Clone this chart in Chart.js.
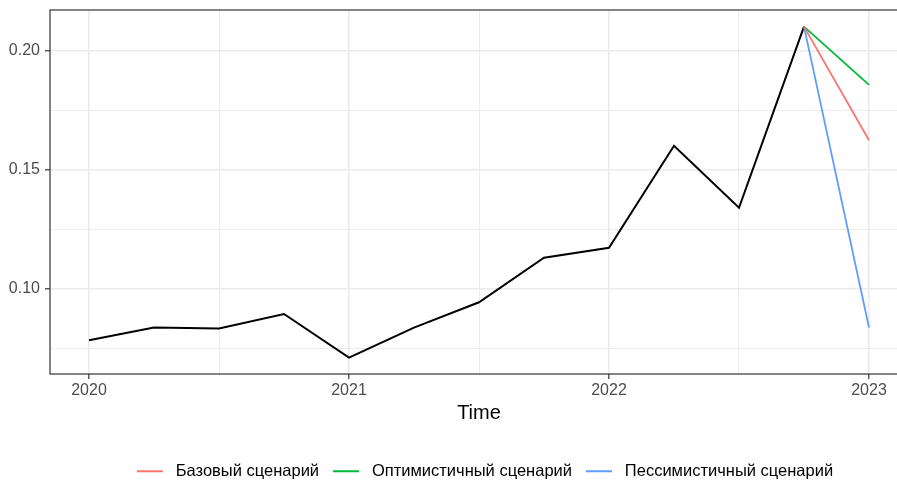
<!DOCTYPE html>
<html>
<head>
<meta charset="utf-8">
<script src="https://cdn.jsdelivr.net/npm/chart.js@4.4.1/dist/chart.umd.min.js"></script>
<style>
  html, body { margin: 0; padding: 0; background: #ffffff; overflow: hidden; }
  canvas { display: block; }
</style>
</head>
<body>
<!-- panel runs past the right edge of the window, as in the original export -->
<canvas id="chart" width="908" height="480"></canvas>
<script>
// quarterly history (decimal years)
const histTime = [2020, 2020.25, 2020.5, 2020.75, 2021, 2021.25, 2021.5, 2021.75, 2022, 2022.25, 2022.5, 2022.75];
const histValues = [0.0785, 0.0838, 0.0834, 0.0895, 0.0712, 0.0838, 0.0944, 0.1131, 0.1173, 0.1601, 0.1341, 0.2101];

// forecast: last observed quarter -> 2023
const forecastTime = [2022.75, 2023];
const scenarioNames = ['Базовый сценарий', 'Оптимистичный сценарий', 'Пессимистичный сценарий'];
const baseValues = [0.2101, 0.1624];
const optimisticValues = [0.2101, 0.1857];
const pessimisticValues = [0.2101, 0.0838];

const xTicks = [2020, 2020.5, 2021, 2021.5, 2022, 2022.5, 2023];
const yTicks = [0.075, 0.10, 0.125, 0.15, 0.175, 0.20];
const xLabels = [2020, 2021, 2022, 2023];
const yLabels = [0.10, 0.15, 0.20];

const isMajorX = v => xLabels.some(t => Math.abs(t - v) < 1e-6);
const isMajorY = v => yLabels.some(t => Math.abs(t - v) < 1e-6);

const toPoints = (xs, ys) => xs.map((x, i) => ({ x: x, y: ys[i] }));

Chart.defaults.font.family = '"Liberation Sans", Arial, sans-serif';
Chart.defaults.font.size = 16;
Chart.defaults.color = '#4D4D4D';

const lineStyle = (label, color, data) => ({
  label: label,
  data: data,
  borderColor: color,
  backgroundColor: color,
  borderWidth: 1.8,
  pointRadius: 0,
  tension: 0
});

const panelBorder = {
  id: 'panelBorder',
  afterDatasetsDraw(chart) {
    const { ctx, chartArea } = chart;
    ctx.save();
    ctx.strokeStyle = '#333333';
    ctx.lineWidth = 1.2;
    ctx.strokeRect(chartArea.left, chartArea.top, chartArea.right - chartArea.left, chartArea.bottom - chartArea.top);
    ctx.restore();
  }
};

// legend is centred on the panel, not the whole canvas
const legendShift = {
  id: 'legendShift',
  afterLayout(chart) {
    chart.legend.left += 62;
  }
};

const ctx = document.getElementById('chart').getContext('2d');
new Chart(ctx, {
  type: 'line',
  data: {
    datasets: [
      lineStyle(scenarioNames[0], '#F8766D', toPoints(forecastTime, baseValues)),
      lineStyle(scenarioNames[1], '#00BA38', toPoints(forecastTime, optimisticValues)),
      lineStyle(scenarioNames[2], '#619CFF', toPoints(forecastTime, pessimisticValues)),
      Object.assign(lineStyle('history', '#000000', toPoints(histTime, histValues)), { borderWidth: 2 })
    ]
  },
  options: {
    responsive: false,
    animation: false,
    layout: { autoPadding: false, padding: { top: 10, right: 0, bottom: -9.5, left: 0 } },
    plugins: {
      tooltip: { enabled: false },
      legend: {
        position: 'bottom',
        labels: {
          boxWidth: 26,
          boxHeight: 2,
          padding: 14,
          color: '#000000',
          font: { size: 16.5 },
          generateLabels(chart) {
            return Chart.defaults.plugins.legend.labels.generateLabels(chart)
              .filter(item => item.datasetIndex < 3)
              .map(item => Object.assign(item, { lineWidth: 0, text: ' ' + item.text }));
          }
        }
      }
    },
    scales: {
      x: {
        type: 'linear',
        min: 2019.85,
        max: 2023.15,
        afterBuildTicks: scale => { scale.ticks = xTicks.map(v => ({ value: v })); },
        afterFit: scale => { scale.height = 75; scale.paddingLeft = 0; scale.paddingRight = 0; },
        ticks: {
          padding: 2,
          color: '#4D4D4D',
          maxRotation: 0,
          autoSkip: false,
          callback: v => isMajorX(v) ? String(v) : ''
        },
        grid: {
          color: '#EBEBEB',
          lineWidth: c => isMajorX(c.tick.value) ? 1.6 : 0.9,
          tickLength: 5,
          tickColor: c => isMajorX(c.tick.value) ? '#333333' : 'rgba(0,0,0,0)',
          tickWidth: 1.2
        },
        border: { display: false },
        title: {
          display: true,
          text: 'Time',
          color: '#000000',
          font: { size: 20 },
          padding: { top: 0, bottom: 24 }
        }
      },
      y: {
        min: 0.0643,
        max: 0.2171,
        afterBuildTicks: scale => { scale.ticks = yTicks.map(v => ({ value: v })); },
        afterFit: scale => { scale.width = 50; scale.paddingTop = 0; scale.paddingBottom = 0; },
        ticks: {
          padding: 5,
          color: '#4D4D4D',
          autoSkip: false,
          callback: v => isMajorY(v) ? v.toFixed(2) : ''
        },
        grid: {
          color: '#EBEBEB',
          lineWidth: c => isMajorY(c.tick.value) ? 1.6 : 0.9,
          tickLength: 5,
          tickColor: c => isMajorY(c.tick.value) ? '#333333' : 'rgba(0,0,0,0)',
          tickWidth: 1.2
        },
        border: { display: false }
      }
    }
  },
  plugins: [panelBorder, legendShift]
});
</script>
</body>
</html>
